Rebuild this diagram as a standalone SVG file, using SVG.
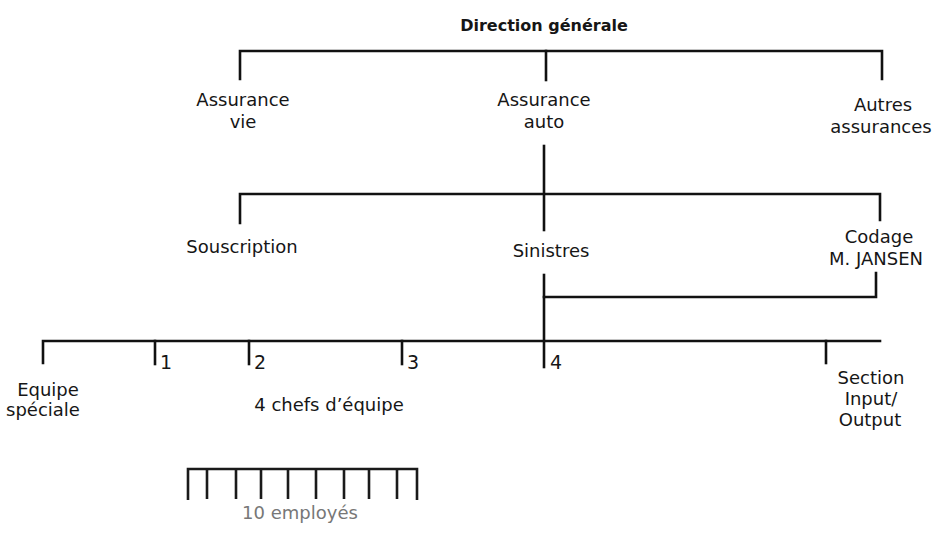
<svg xmlns="http://www.w3.org/2000/svg" width="939" height="534" viewBox="0 0 939 534">
<style>
text{font-family:"DejaVu Sans","Liberation Sans",sans-serif;font-size:18px;fill:#161616;text-anchor:middle}
.b{font-weight:bold;font-size:16px}
.n{text-anchor:start;font-size:19px}
.f{fill:#777}
.c line,.c path{stroke:#111;stroke-width:2.6;fill:none;stroke-linecap:square}
.e line,.e path{stroke:#1a1a1a;stroke-width:2.6;fill:none}
</style>
<rect width="939" height="534" fill="#fff"/>
<g class="c" id="connectors">
<path d="M240,79 V51 H882 V79"/>
<line x1="546" y1="51" x2="546" y2="80"/>
<path d="M240,223 V194 H880 V220"/>
<line x1="544" y1="146" x2="544" y2="230"/>
<line x1="544" y1="275" x2="544" y2="367"/>
<path d="M544,297 H876 V273"/>
<path d="M43,363 V341 H880"/>
<line x1="155" y1="341" x2="155" y2="364"/>
<line x1="249" y1="341" x2="249" y2="364"/>
<line x1="402" y1="341" x2="402" y2="364"/>
<line x1="826" y1="341" x2="826" y2="363"/>
</g>
<g class="e" id="comb">
<path d="M188,500 V469 H417 V500"/>
<line x1="207" y1="469" x2="207" y2="499"/>
<line x1="236" y1="469" x2="236" y2="499"/>
<line x1="261" y1="469" x2="261" y2="499"/>
<line x1="288" y1="469" x2="288" y2="499"/>
<line x1="316" y1="469" x2="316" y2="499"/>
<line x1="344" y1="469" x2="344" y2="499"/>
<line x1="369" y1="469" x2="369" y2="499"/>
<line x1="397" y1="469" x2="397" y2="499"/>
</g>
<g id="direction"><text class="b" x="544" y="31">Direction générale</text></g>
<g id="assurance-vie"><text x="243" y="106">Assurance</text><text x="243" y="128">vie</text></g>
<g id="assurance-auto"><text x="544" y="106">Assurance</text><text x="544" y="128">auto</text></g>
<g id="autres"><text x="883" y="111">Autres</text><text x="881" y="133">assurances</text></g>
<g id="souscription"><text x="242" y="253">Souscription</text></g>
<g id="sinistres"><text x="551" y="257">Sinistres</text></g>
<g id="codage"><text x="879" y="243">Codage</text><text x="876" y="265">M. JANSEN</text></g>
<g id="equipe-speciale"><text x="48" y="396">Equipe</text><text x="43" y="416">spéciale</text></g>
<g id="chef1"><text class="n" x="160" y="369">1</text></g>
<g id="chef2"><text class="n" x="254" y="369">2</text></g>
<g id="chef3"><text class="n" x="407" y="369">3</text></g>
<g id="chef4"><text class="n" x="550" y="369">4</text></g>
<g id="chefs"><text x="329" y="411">4 chefs d’équipe</text></g>
<g id="section"><text x="871" y="384">Section</text><text x="871" y="405">Input/</text><text x="870" y="426">Output</text></g>
<g id="employes"><text class="f" x="300" y="519">10 employés</text></g>
</svg>
